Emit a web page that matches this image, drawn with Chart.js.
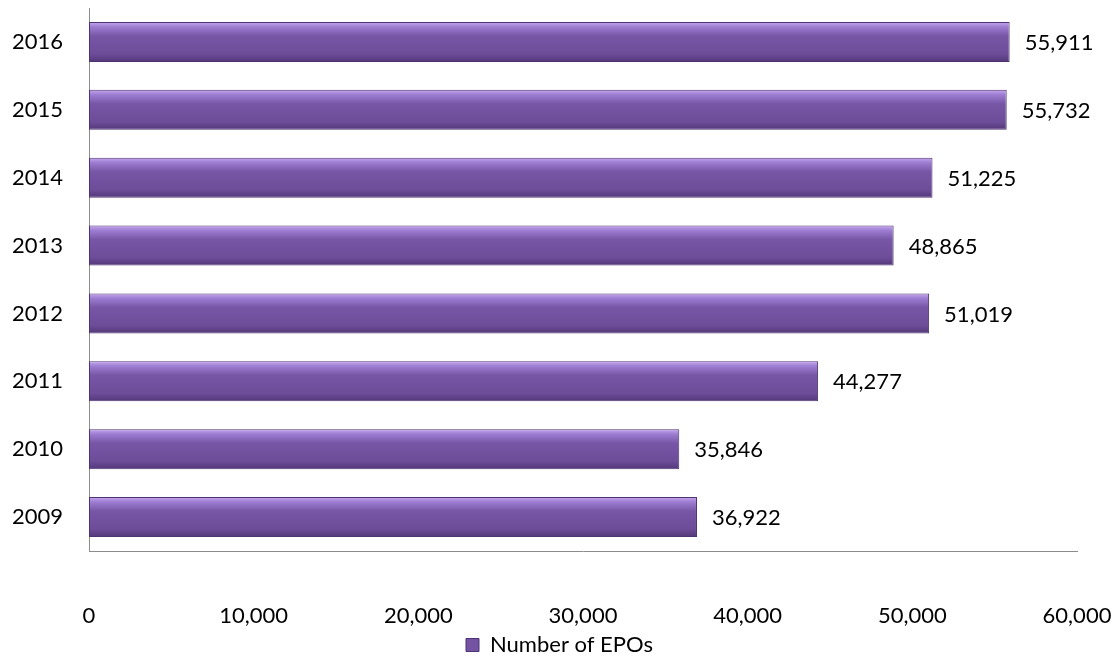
<!DOCTYPE html>
<html>
<head>
<meta charset="utf-8">
<script src="https://cdn.jsdelivr.net/npm/chart.js@4/dist/chart.umd.min.js"></script>
<style>
  html, body { margin: 0; padding: 0; background: #fff; }
  #wrap { width: 1119px; height: 659px; }
</style>
</head>
<body>
<div id="wrap"><canvas id="myChart"></canvas></div>
<script>
const years = ['2016', '2015', '2014', '2013', '2012', '2011', '2010', '2009'];
const epoCounts = [55911, 55732, 51225, 48865, 51019, 44277, 35846, 36922];
const xTicks = [0, 10000, 20000, 30000, 40000, 50000, 60000];
const seriesName = 'Number of EPOs';

const FONT = 'Lato, "Open Sans", sans-serif';
const FSIZE = 22;
const BAR_PCT = 0.59;

function barFill(context) {
    const chart = context.chart;
    const y = chart.scales.y;
    if (!chart.chartArea || !y || context.dataIndex === undefined) return '#7553a3';
    const yc = y.getPixelForValue(context.dataIndex);
    const h = (y.height / years.length) * BAR_PCT;
    const g = chart.ctx.createLinearGradient(0, yc - h / 2, 0, yc + h / 2);
    g.addColorStop(0, '#c6a8f0');
    g.addColorStop(0.12, '#9e7ed2');
    g.addColorStop(0.35, '#7756a6');
    g.addColorStop(0.8, '#6d4c99');
    g.addColorStop(1, '#523878');
    return g;
}

const valueLabels = {
    id: 'valueLabels',
    afterDatasetsDraw(chart) {
        const ctx = chart.ctx;
        const meta = chart.getDatasetMeta(0);
        ctx.save();
        ctx.font = FSIZE + 'px ' + FONT;
        ctx.fillStyle = '#000';
        ctx.textBaseline = 'middle';
        ctx.textAlign = 'left';
        meta.data.forEach((bar, i) => {
            ctx.fillText(epoCounts[i].toLocaleString('en-US'), bar.x + 15, bar.y + 1);
        });
        ctx.restore();
    }
};

document.addEventListener('DOMContentLoaded', () => {
    const ctx = document.getElementById('myChart').getContext('2d');

    new Chart(ctx, {
        type: 'bar',
        data: {
            labels: years,
            datasets: [{
                label: seriesName,
                data: epoCounts,
                backgroundColor: barFill,
                borderColor: '#4e3372',
                borderWidth: 1,
                borderSkipped: false,
                categoryPercentage: 1,
                barPercentage: BAR_PCT
            }]
        },
        options: {
            indexAxis: 'y',
            responsive: true,
            maintainAspectRatio: false,
            animation: false,
            layout: { padding: { top: 8, right: 0, left: 0, bottom: -7 } },
            scales: {
                x: {
                    min: 0,
                    max: 60000,
                    afterBuildTicks(axis) {
                        axis.ticks = xTicks.map(v => ({ value: v }));
                    },
                    afterFit(axis) {
                        axis.height = 77;
                        axis.paddingLeft = 0;
                        axis.paddingRight = 42;
                    },
                    grid: { display: false, drawTicks: false },
                    border: { display: true, color: '#8c8c8c', width: 1 },
                    ticks: {
                        color: '#000',
                        font: { family: FONT, size: FSIZE },
                        padding: 52,
                        maxRotation: 0,
                        callback: v => v.toLocaleString('en-US')
                    }
                },
                y: {
                    grid: { display: false, drawTicks: false },
                    border: { display: true, color: '#8c8c8c', width: 1 },
                    afterFit(axis) {
                        axis.width = 89;
                        axis.paddingTop = 0;
                        axis.paddingBottom = 0;
                    },
                    ticks: {
                        color: '#000',
                        font: { family: FONT, size: FSIZE },
                        padding: 26
                    }
                }
            },
            plugins: {
                legend: {
                    position: 'bottom',
                    labels: {
                        color: '#000',
                        font: { family: FONT, size: FSIZE },
                        boxWidth: 13,
                        boxHeight: 13,
                        padding: 6,
                        generateLabels() {
                            return [{
                                text: seriesName,
                                fillStyle: '#7553a3',
                                strokeStyle: '#4e3372',
                                lineWidth: 1,
                                datasetIndex: 0
                            }];
                        }
                    }
                },
                tooltip: { enabled: false }
            }
        },
        plugins: [valueLabels]
    });
});
</script>
</body>
</html>
